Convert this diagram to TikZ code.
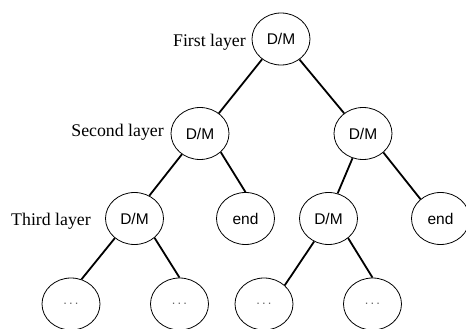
\documentclass[tikz,border=0pt]{standalone}
\usepackage{fontspec}
\setmainfont{Liberation Serif}
\setsansfont{Liberation Sans}
\usetikzlibrary{shapes.geometric}
\begin{document}
\begin{tikzpicture}[x=1pt,y=-1pt,
  tnode/.style={ellipse,draw,line width=0.8pt,minimum width=58pt,minimum height=52pt,inner sep=0pt,
    font=\sffamily\fontsize{15.5}{18}\selectfont},
  dnode/.style={tnode,text=black!60,font=\sffamily\fontsize{13}{16}\selectfont},
  lab/.style={anchor=base east,inner sep=0pt,font=\fontsize{17.8}{20}\selectfont},
  edge/.style={line width=1.8pt}]
\useasboundingbox (0,0) rectangle (466,329);
\node[tnode] (r) at (281,39) {D/M};
\node[tnode] (a) at (200,133.5) {D/M};
\node[tnode] (b) at (363,133.5) {D/M};
\node[tnode] (aa) at (134.5,218.5) {D/M};
\node[tnode] (ab) at (245.5,218.5) {end};
\node[tnode] (ba) at (328.5,218.5) {D/M};
\node[tnode] (bb) at (440.5,218.5) {end};
\node[dnode] (aaa) at (71,304) {.\,.\,.};
\node[dnode] (aab) at (179.5,304) {.\,.\,.};
\node[dnode] (baa) at (264,304) {.\,.\,.};
\node[dnode] (bab) at (372.5,304) {.\,.\,.};
\node[lab] (l1) at (246,46.7) {First layer};
\node[lab] (l2) at (164,136.7) {Second layer};
\node[lab] (l3) at (91,225) {Third layer};
\draw[edge] (r.227.6) -- (a.47.5);
\draw[edge] (r.312) -- (b.133.6);
\draw[edge] (a.229.6) -- (aa.57);
\draw[edge] (a.318) -- (ab.90);
\draw[edge] (b.247.7) -- (ba.70);
\draw[edge] (b.317) -- (bb.136);
\draw[edge] (aa.225) -- (aaa.67.6);
\draw[edge] (aa.316) -- (aab.90);
\draw[edge] (ba.238.5) -- (baa.42);
\draw[edge] (ba.315) -- (bab.90);
\end{tikzpicture}
\end{document}
